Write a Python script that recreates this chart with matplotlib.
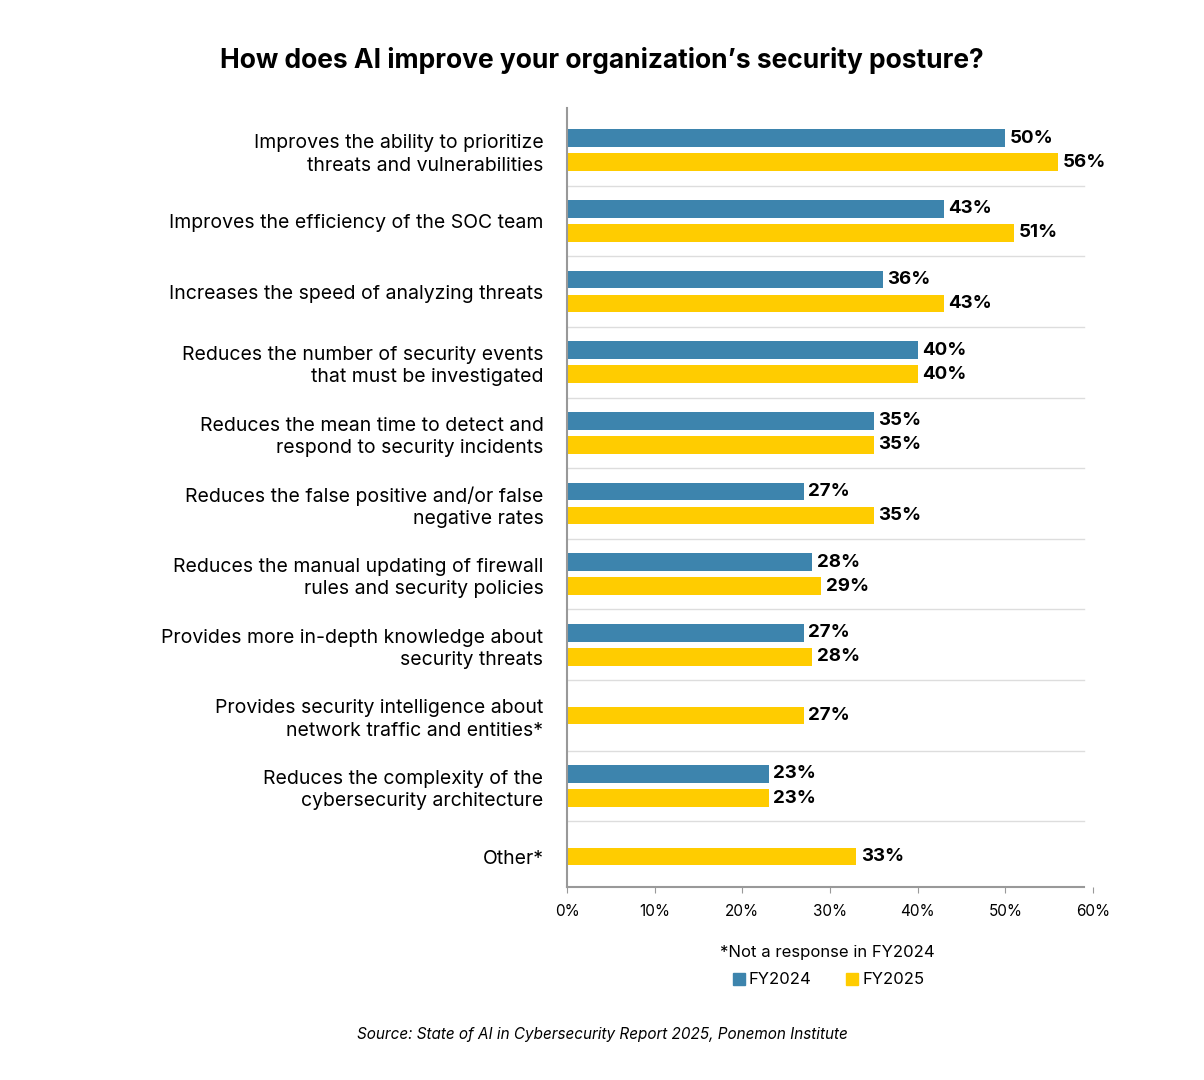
import numpy as np
import matplotlib.pyplot as plt

# data
categories = [
    "Improves the ability to prioritize\nthreats and vulnerabilities",
    "Improves the efficiency of the SOC team",
    "Increases the speed of analyzing threats",
    "Reduces the number of security events\nthat must be investigated",
    "Reduces the mean time to detect and\nrespond to security incidents",
    "Reduces the false positive and/or false\nnegative rates",
    "Reduces the manual updating of firewall\nrules and security policies",
    "Provides more in-depth knowledge about\nsecurity threats",
    "Provides security intelligence about\nnetwork traffic and entities*",
    "Reduces the complexity of the\ncybersecurity architecture",
    "Other*",
]
fy2024 = [50, 43, 36, 40, 35, 27, 28, 27, None, 23, None]
fy2025 = [56, 51, 43, 40, 35, 35, 29, 28, 27, 23, 33]

BLUE = "#3D84AD"
YELLOW = "#FFCC00"
plt.rcParams["font.family"] = "Inter"

fig = plt.figure(figsize=(12.04, 10.8), dpi=100)
ax = fig.add_axes([567 / 1204, 1 - 887 / 1080, (1093 - 567) / 1204, (887 - 115) / 1080])

h = 0.25
off = 0.17
vfs = 13.5
for i, (a, b) in enumerate(zip(fy2024, fy2025)):
    if a is None:
        ax.barh(i, b, height=h, color=YELLOW)
        ax.text(b + 0.5, i, f"{b}%", va="center", fontsize=vfs, fontweight="bold")
    else:
        ax.barh(i - off, a, height=h, color=BLUE)
        ax.barh(i + off, b, height=h, color=YELLOW)
        ax.text(a + 0.5, i - off, f"{a}%", va="center", fontsize=vfs, fontweight="bold")
        ax.text(b + 0.5, i + off, f"{b}%", va="center", fontsize=vfs, fontweight="bold")

for k in range(len(categories) - 1):
    ax.plot([0, 59], [k + 0.5, k + 0.5], color="#dddddd", lw=1, clip_on=False)

ax.set_ylim(10.43, -0.5)
ax.set_xlim(0, 60)
ax.set_yticks(range(len(categories)))
ax.set_yticklabels(categories, fontsize=14, linespacing=1.3)
ax.tick_params(axis="y", length=0, pad=17)
ax.set_xticks(range(0, 61, 10))
ax.set_xticklabels([f"{v}%" for v in range(0, 61, 10)], fontsize=11)
ax.tick_params(axis="x", length=4, color="#999999", pad=8)
for s in ["top", "right"]:
    ax.spines[s].set_visible(False)
ax.spines["left"].set_color("#999999")
ax.spines["left"].set_linewidth(1.5)
ax.spines["bottom"].set_color("#999999")
ax.spines["bottom"].set_linewidth(1.5)
ax.spines["bottom"].set_bounds(0, 59)
ax.spines["left"].set_bounds(10.43, -0.6)

fig.text(0.5, 1 - 60 / 1080, "How does AI improve your organization\u2019s security posture?",
         ha="center", va="center", fontsize=19, fontweight="bold")
fig.text(827 / 1204, 1 - 952 / 1080, "*Not a response in FY2024", ha="center", va="center", fontsize=12)
fig.patches.append(plt.Rectangle((733 / 1204, 1 - 985 / 1080), 12 / 1204, 12 / 1080,
                                 color=BLUE, transform=fig.transFigure))
fig.text(749 / 1204, 1 - 979 / 1080, "FY2024", va="center", fontsize=12)
fig.patches.append(plt.Rectangle((846 / 1204, 1 - 985 / 1080), 12 / 1204, 12 / 1080,
                                 color=YELLOW, transform=fig.transFigure))
fig.text(862 / 1204, 1 - 979 / 1080, "FY2025", va="center", fontsize=12)
fig.text(602 / 1204, 1 - 1035 / 1080, "Source: State of AI in Cybersecurity Report 2025, Ponemon Institute",
         ha="center", va="center", fontsize=11, style="italic")

fig.savefig("out.png", dpi=100, facecolor="white")
